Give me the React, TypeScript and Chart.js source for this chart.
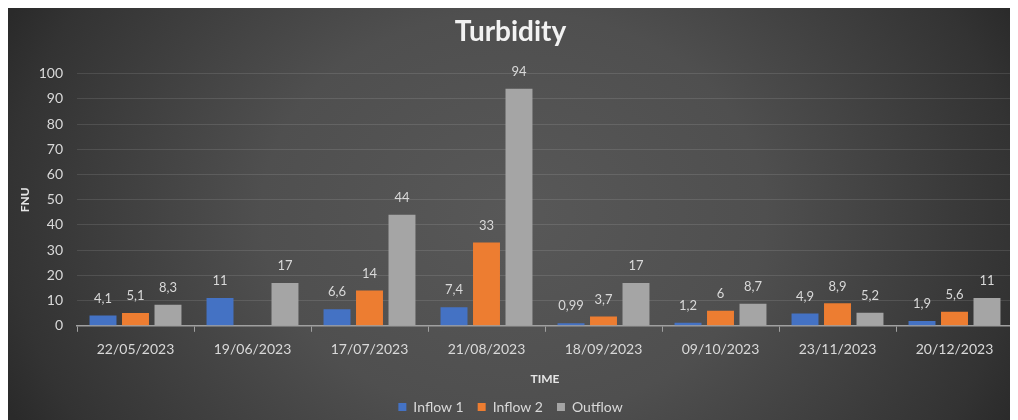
import React, { useEffect, useRef } from "react";
import { Chart, registerables } from "chart.js";

Chart.register(...registerables);

const categories = [
  "22/05/2023",
  "19/06/2023",
  "17/07/2023",
  "21/08/2023",
  "18/09/2023",
  "09/10/2023",
  "23/11/2023",
  "20/12/2023",
];
const inflow1 = [4.1, 11, 6.6, 7.4, 0.99, 1.2, 4.9, 1.9];
const inflow2 = [5.1, null, 14, 33, 3.7, 6, 8.9, 5.6];
const outflow = [8.3, 17, 44, 94, 17, 8.7, 5.2, 11];
const seriesNames = ["Inflow 1", "Inflow 2", "Outflow"];
const seriesColors = ["#4472C4", "#ED7D31", "#A5A5A5"];

const FONT = "Lato, 'Open Sans', sans-serif";
const TEXT = "#d9d9d9";

const bgPlugin = {
  id: "bgGradient",
  beforeDraw(chart: any) {
    const { ctx, width, height } = chart;
    ctx.save();
    ctx.fillStyle = "#2a2a2a";
    ctx.fillRect(0, 0, width, height);
    const cx = width / 2;
    const cy = height / 2;
    const rx = 560;
    const ry = 450;
    ctx.translate(cx, cy);
    ctx.scale(1, ry / rx);
    const g = ctx.createRadialGradient(0, 0, 0, 0, 0, rx);
    g.addColorStop(0, "#585858");
    g.addColorStop(0.45, "#4f4f4f");
    g.addColorStop(0.9, "#333333");
    g.addColorStop(1, "#2a2a2a");
    ctx.fillStyle = g;
    ctx.fillRect(-cx, -rx, width, rx * 2);
    ctx.restore();
  },
};

const labelPlugin = {
  id: "valueLabels",
  afterDatasetsDraw(chart: any) {
    const { ctx } = chart;
    ctx.save();
    ctx.font = `13px ${FONT}`;
    ctx.fillStyle = TEXT;
    ctx.textAlign = "center";
    ctx.textBaseline = "middle";
    chart.data.datasets.forEach((ds: any, di: number) => {
      const meta = chart.getDatasetMeta(di);
      meta.data.forEach((el: any, i: number) => {
        const v = ds.data[i];
        if (v === null || v === undefined) return;
        const txt = String(v).replace(".", ",");
        ctx.fillText(txt, el.x, el.y - 17);
      });
    });
    ctx.restore();
  },
};

export default function App() {
  const ref = useRef<HTMLCanvasElement | null>(null);
  useEffect(() => {
    if (!ref.current) return;
    const chart = new Chart(ref.current, {
      type: "bar",
      data: {
        labels: categories,
        datasets: [inflow1, inflow2, outflow].map((d, i) => ({
          label: seriesNames[i],
          data: d,
          backgroundColor: seriesColors[i],
          categoryPercentage: 0.833,
          barPercentage: 0.83,
        })),
      },
      options: {
        responsive: false,
        animation: false,
        devicePixelRatio: 1,
        layout: { padding: { left: 0, right: 5, top: 0, bottom: -4 } },
        plugins: {
          tooltip: { enabled: false },
          title: {
            display: true,
            text: "Turbidity",
            color: "#f2f2f2",
            font: { family: FONT, size: 28, weight: "bold" },
            padding: { top: 7, bottom: 25 },
          },
          legend: {
            position: "bottom",
            labels: {
              boxWidth: 8,
              boxHeight: 8,
              padding: 14,
              color: TEXT,
              font: { family: FONT, size: 14 },
            },
          },
        },
        scales: {
          x: {
            grid: {
              display: true,
              drawOnChartArea: false,
              drawTicks: true,
              tickLength: 6,
              color: "#a0a0a0",
              offset: true,
            },
            border: { display: true, color: "#a0a0a0", width: 1.5 },
            ticks: { color: TEXT, font: { family: FONT, size: 14 }, padding: 9, maxRotation: 0 },
            title: {
              display: true,
              text: "TIME",
              color: "#e6e6e6",
              font: { family: FONT, size: 12, weight: "bold" },
              padding: { top: 5, bottom: 0 },
            },
          },
          y: {
            min: 0,
            max: 100,
            ticks: { stepSize: 10, color: TEXT, font: { family: FONT, size: 14 }, padding: 14 },
            grid: { color: "rgba(255,255,255,0.11)", drawTicks: false },
            border: { display: false },
            title: {
              display: true,
              text: "FNU",
              color: "#e6e6e6",
              font: { family: FONT, size: 12, weight: "bold" },
              padding: { top: 10, bottom: 4 },
            },
            afterFit(scale: any) {
              scale.width = 69;
            },
          },
        },
      },
      plugins: [bgPlugin, labelPlugin],
    });
    return () => chart.destroy();
  }, []);
  return (
    <div style={{ width: 1010, height: 412 }}>
      <canvas ref={ref} width={1010} height={412} style={{ display: "block" }} />
    </div>
  );
}
